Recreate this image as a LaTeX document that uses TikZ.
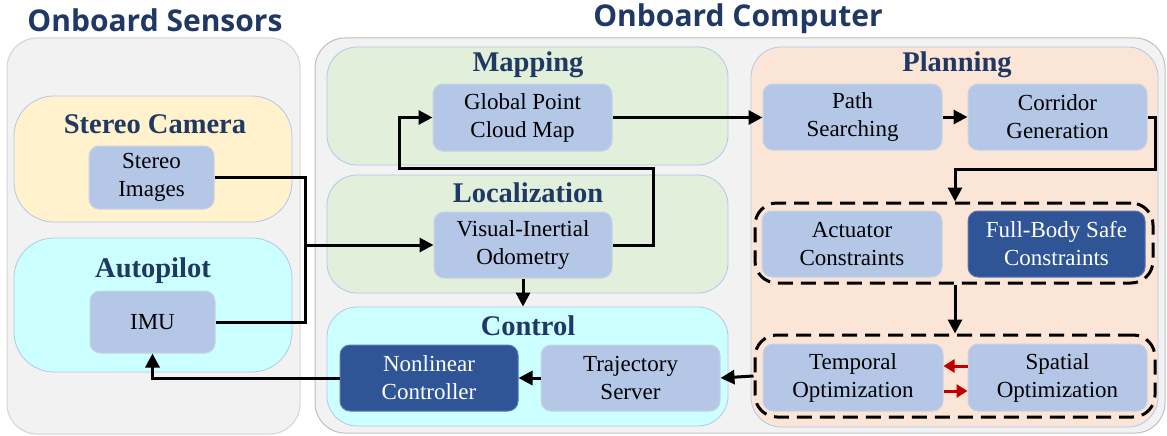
\documentclass[tikz,border=0pt]{standalone}
\usepackage{fontspec}
\setmainfont{Liberation Serif}
\newfontfamily\headfont{Open Sans}
\usetikzlibrary{arrows.meta}
\definecolor{bggray}{HTML}{F2F2F2}
\definecolor{bgborder}{HTML}{D4D4D4}
\definecolor{bgborderb}{HTML}{BFBFBF}
\definecolor{yel}{HTML}{FFF2CC}
\definecolor{cyn}{HTML}{CCFFFF}
\definecolor{grn}{HTML}{E2EFDA}
\definecolor{pch}{HTML}{FBE5D6}
\definecolor{secborder}{HTML}{B4C7E7}
\definecolor{nodefill}{HTML}{B4C7E7}
\definecolor{nodeborder}{HTML}{C9D2E2}
\definecolor{darkfill}{HTML}{2F5597}
\definecolor{navy}{HTML}{1F3864}
\definecolor{redarrow}{HTML}{C00000}
\tikzset{
  outerbox/.style 2 args={draw=bgborder, fill=bggray, line width=1pt, rounded corners=30pt, minimum width=#1, minimum height=#2, inner sep=0pt},
  secbox/.style n args={4}{draw=secborder, fill=#3, line width=0.8pt, rounded corners=#4, minimum width=#1, minimum height=#2, inner sep=0pt},
  blk/.style 2 args={draw=nodeborder, fill=nodefill, line width=1pt, rounded corners=10pt, minimum width=#1, minimum height=#2, inner sep=0pt, align=center, font=\fontsize{23}{28}\selectfont},
  dblk/.style 2 args={blk={#1}{#2}, fill=darkfill, draw=darkfill!80!white, text=white},
  dashbox/.style 2 args={draw=black, line width=3pt, dash pattern=on 15pt off 8pt, rounded corners=22pt, minimum width=#1, minimum height=#2, inner sep=0pt},
  headtitle/.style={anchor=base, text=navy, font=\headfont\bfseries\fontsize{30}{36}\selectfont, inner sep=0pt},
  sectitle/.style={anchor=base, text=navy, font=\bfseries\fontsize{28.5}{34}\selectfont, inner sep=0pt},
  conn/.style={line width=3pt, draw=black},
  arr/.style={conn, -{Triangle[length=14pt,width=14pt]}},
  redarr/.style={line width=3pt, draw=redarrow, -{Triangle[length=11pt,width=13pt]}},
}
\begin{document}
\begin{tikzpicture}[x=1pt,y=-1pt]
\useasboundingbox (0,0) rectangle (1167,436);
% outer containers
\node[outerbox={293pt}{396pt}] (sensors) at (153.5,236) {};
\node[outerbox={850pt}{395pt}, draw=bgborderb] (computer) at (740,235.5) {};
\node[headtitle] (tsens) at (155,32) {Onboard Sensors};
\node[headtitle] (tcomp) at (738,27) {Onboard Computer};
% sensor sections
\node[secbox={278pt}{126pt}{yel}{40pt}] (camera) at (153,159) {};
\node[secbox={278pt}{134pt}{cyn}{40pt}] (autopilot) at (153,305) {};
\node[sectitle] (tcam) at (155,133) {Stereo Camera};
\node[sectitle] (tauto) at (153,277) {Autopilot};
% computer sections
\node[secbox={401pt}{118pt}{grn}{30pt}] (mapping) at (527.5,106) {};
\node[secbox={401pt}{118pt}{grn}{30pt}] (localization) at (527.5,234) {};
\node[secbox={401pt}{119pt}{cyn}{30pt}] (control) at (527.5,366.5) {};
\node[secbox={407pt}{380pt}{pch}{30pt}] (planning) at (954.5,237) {};
\node[sectitle] (tmap) at (528,72) {Mapping};
\node[sectitle] (tloc) at (528,202) {Localization};
\node[sectitle] (tctrl) at (528,335) {Control};
\node[sectitle] (tplan) at (957,72) {Planning};
% blocks
\node[blk={125pt}{63pt}] (stereo) at (151.5,177.5) {Stereo\\Images};
\node[blk={125pt}{62pt}] (imu) at (152.5,322) {IMU};
\node[blk={179pt}{67pt}] (gpcm) at (522.5,117.5) {Global Point\\Cloud Map};
\node[blk={178pt}{66pt}] (vio) at (523,245) {Visual-Inertial\\Odometry};
\node[dblk={178pt}{66pt}] (nlc) at (429,378) {Nonlinear\\Controller};
\node[blk={179pt}{66pt}] (traj) at (630.5,378) {Trajectory\\Server};
\node[blk={179pt}{66pt}] (path) at (852.5,117) {Path\\Searching};
\node[blk={179pt}{66pt}] (corr) at (1057.5,117) {Corridor\\Generation};
\node[dashbox={398pt}{80pt}] (cons) at (954,243) {};
\node[dashbox={400pt}{82pt}] (opt) at (955,376) {};
\node[blk={180pt}{66pt}] (act) at (852,244) {Actuator\\Constraints};
\node[dblk={177pt}{66pt}] (fbs) at (1056.5,244) {Full-Body Safe\\Constraints};
\node[blk={180pt}{67pt}] (temp) at (853,377.5) {Temporal\\Optimization};
\node[blk={179pt}{67pt}] (spat) at (1057.5,377.5) {Spatial\\Optimization};
% connectors
\coordinate (j) at (305,245);
\draw[arr] (stereo.east) -| (j) -- (vio.west);
\draw[conn] (imu.east) -| (j);
\draw[arr] (nlc.west) -| (imu.south);
\draw[arr] (vio.south) -- (control.north -| vio.south);
\draw[arr] (vio.east) -| (653,168) -| (399,117.5) -- (gpcm.west);
\draw[arr] (gpcm.east) -- (path.west |- gpcm.east);
\draw[arr] (path.east) -- (corr.west);
\draw[arr] (corr.east) -| (1155,169) -| (cons.north -| 955,0);
\draw[arr] (cons.south -| 955,0) -- (opt.north -| 955,0);
\draw[arr] (opt.west) -- (traj.east);
\draw[arr] (traj.west) -- (nlc.east);
\draw[redarr] (spat.west |- 0,366) -- (temp.east |- 0,366);
\draw[redarr] (temp.east |- 0,391) -- (spat.west |- 0,391);
\end{tikzpicture}
\end{document}
